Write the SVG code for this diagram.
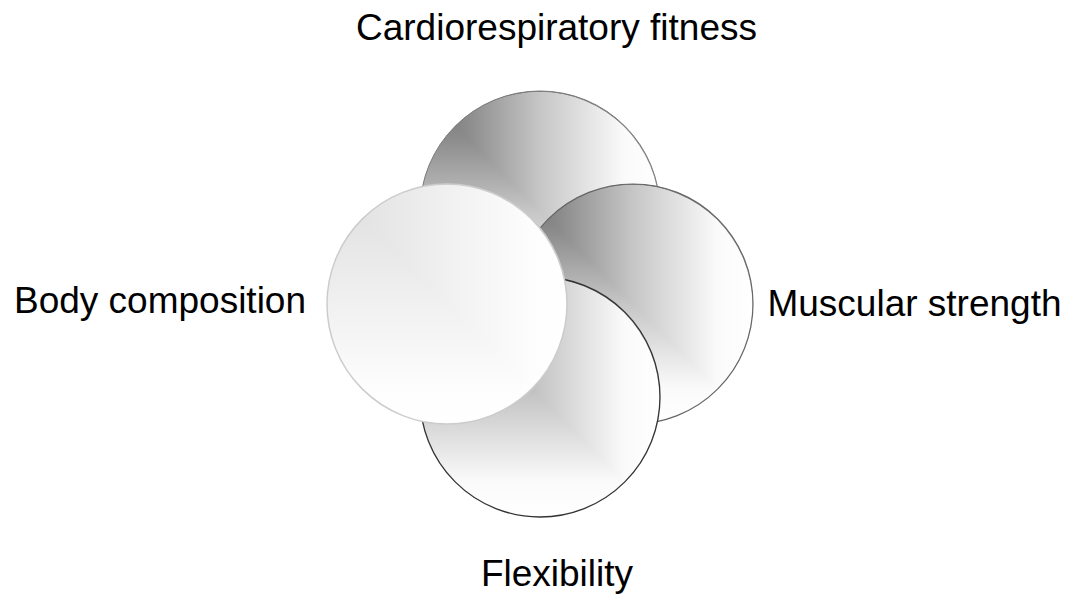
<svg xmlns="http://www.w3.org/2000/svg" width="1067" height="594" viewBox="0 0 1067 594">
  <defs>
    <linearGradient id="gv" gradientUnits="userSpaceOnUse" x1="0" y1="-120" x2="0" y2="120">
      <stop offset="0" stop-color="#707070"/>
      <stop offset="0.2" stop-color="#8c8c8c"/>
      <stop offset="0.5" stop-color="#c6c6c6"/>
      <stop offset="0.85" stop-color="#fafafa"/>
      <stop offset="1" stop-color="#ffffff"/>
    </linearGradient>
    <linearGradient id="gh" gradientUnits="userSpaceOnUse" x1="-120" y1="0" x2="120" y2="0">
      <stop offset="0" stop-color="#707070"/>
      <stop offset="0.2" stop-color="#8c8c8c"/>
      <stop offset="0.5" stop-color="#c6c6c6"/>
      <stop offset="0.85" stop-color="#fafafa"/>
      <stop offset="1" stop-color="#ffffff"/>
    </linearGradient>
    <linearGradient id="gvL" gradientUnits="userSpaceOnUse" x1="0" y1="-120" x2="0" y2="120">
      <stop offset="0" stop-color="#dedede"/>
      <stop offset="0.85" stop-color="#fdfdfd"/>
      <stop offset="1" stop-color="#ffffff"/>
    </linearGradient>
    <linearGradient id="ghL" gradientUnits="userSpaceOnUse" x1="-120" y1="0" x2="120" y2="0">
      <stop offset="0" stop-color="#dedede"/>
      <stop offset="0.85" stop-color="#fdfdfd"/>
      <stop offset="1" stop-color="#ffffff"/>
    </linearGradient>
  </defs>
  <style>
    .lbl { font-family: "Liberation Sans", Arial, sans-serif; font-size: 37px; fill: #000; text-anchor: middle; }
    .v { fill: url(#gv); }
    .h { fill: url(#gh); }
    .vL { fill: url(#gvL); }
    .hL { fill: url(#ghL); }
    .edge { fill: none; }
  </style>

  <g id="cardio" transform="translate(540,211)">
    <circle r="120" class="v"/>
    <path d="M-84.85,-84.85 A120,120 0 0 1 84.85,84.85 Z" class="h"/>
    <circle r="120" class="edge" stroke="#7a7a7a" stroke-width="1"/>
  </g>

  <g id="muscular" transform="translate(633,304)">
    <circle r="120" class="v"/>
    <path d="M-84.85,-84.85 A120,120 0 0 1 84.85,84.85 Z" class="h"/>
    <circle r="120" class="edge" stroke="#666" stroke-width="1.2"/>
  </g>

  <g id="flexibility" transform="translate(540,397)">
    <circle r="120" class="v"/>
    <path d="M-84.85,-84.85 A120,120 0 0 1 84.85,84.85 Z" class="h"/>
    <circle r="120" class="edge" stroke="#333" stroke-width="1.3"/>
  </g>

  <g id="body" transform="translate(447,304)">
    <circle r="120" class="vL"/>
    <path d="M-84.85,-84.85 A120,120 0 0 1 84.85,84.85 Z" class="hL"/>
    <circle r="120" class="edge" stroke="#cccccc" stroke-width="1.5"/>
  </g>

  <g id="labels">
    <text class="lbl" x="556.5" y="39.5">Cardiorespiratory fitness</text>
    <text class="lbl" x="160" y="312.7">Body composition</text>
    <text class="lbl" x="914.5" y="316">Muscular strength</text>
    <text class="lbl" x="557" y="586">Flexibility</text>
  </g>
</svg>
